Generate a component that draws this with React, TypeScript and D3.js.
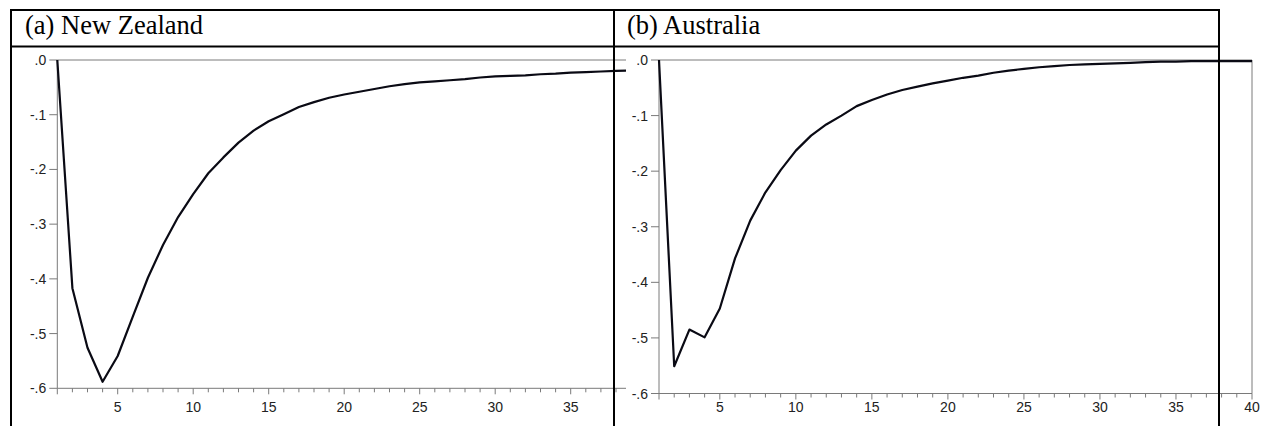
import React from "react";
import * as d3 from "d3";

const periods = [1,2,3,4,5,6,7,8,9,10,11,12,13,14,15,16,17,18,19,20,21,22,23,24,25,26,27,28,29,30,31,32,33,34,35,36,37,38,39,40];

const newZealand = [
  0, -0.417, -0.526, -0.588, -0.541, -0.469, -0.398, -0.338, -0.287, -0.245,
  -0.207, -0.178, -0.151, -0.129, -0.112, -0.099, -0.086, -0.077, -0.069, -0.063,
  -0.058, -0.053, -0.048, -0.044, -0.041, -0.039, -0.037, -0.035, -0.032, -0.030,
  -0.029, -0.028, -0.026, -0.025, -0.023, -0.022, -0.021, -0.020, -0.019, -0.018,
];

const australia = [
  0, -0.551, -0.485, -0.499, -0.447, -0.357, -0.289, -0.238, -0.198, -0.163,
  -0.136, -0.116, -0.100, -0.083, -0.072, -0.062, -0.054, -0.048, -0.042, -0.037,
  -0.032, -0.028, -0.023, -0.019, -0.016, -0.013, -0.011, -0.009, -0.008, -0.007,
  -0.006, -0.005, -0.004, -0.003, -0.003, -0.002, -0.002, -0.002, -0.002, -0.002,
];

const yTickValues = [0, -0.1, -0.2, -0.3, -0.4, -0.5, -0.6];
const yTickLabels = [".0", "-.1", "-.2", "-.3", "-.4", "-.5", "-.6"];
const xTickLabelValues = [5, 10, 15, 20, 25, 30, 35, 40];

const titles = ["(a) New Zealand", "(b) Australia"];

const AXIS = "#7a7a7a";
const LABEL_FONT = "Arial, 'Liberation Sans', sans-serif";

type PanelProps = {
  values: number[];
  x0: number;
  x1: number;
  yTop: number;
  yBottom: number;
  clipRight?: number;
  id: string;
  showRightFrame: boolean;
};

function Panel({ values, x0, x1, yTop, yBottom, clipRight, id, showRightFrame }: PanelProps) {
  const x = d3.scaleLinear().domain([1, 40]).range([x0, x1]);
  const y = d3.scaleLinear().domain([-0.6, 0]).range([yBottom, yTop]);
  const line = d3
    .line<number>()
    .x((_, i) => x(periods[i]))
    .y((d) => y(d));
  const content = (
    <g>
      <line x1={x(1)} x2={x(40)} y1={y(0)} y2={y(0)} stroke={AXIS} strokeWidth={1} />
      <line x1={x(1)} x2={x(40)} y1={y(-0.6)} y2={y(-0.6)} stroke={AXIS} strokeWidth={1} />
      <line x1={x(1)} x2={x(1)} y1={y(0)} y2={y(-0.6)} stroke={AXIS} strokeWidth={1} />
      {showRightFrame && (
        <line x1={x(40)} x2={x(40)} y1={y(0)} y2={y(-0.6)} stroke={AXIS} strokeWidth={1} />
      )}
      {yTickValues.map((v, i) => (
        <g key={"y" + i}>
          <line x1={x(1) - 8} x2={x(1)} y1={y(v)} y2={y(v)} stroke={AXIS} strokeWidth={1} />
          <text
            x={x(1) - 11}
            y={y(v)}
            dy="0.36em"
            textAnchor="end"
            fontFamily={LABEL_FONT}
            fontSize={14}
            fill="#222"
          >
            {yTickLabels[i]}
          </text>
        </g>
      ))}
      {periods.map((p) => {
        const major = p % 5 === 0 || p === 1;
        return (
          <line
            key={"x" + p}
            x1={x(p)}
            x2={x(p)}
            y1={y(-0.6)}
            y2={y(-0.6) + (major ? 6 : 4)}
            stroke={AXIS}
            strokeWidth={1}
          />
        );
      })}
      {xTickLabelValues.map((p) => (
        <text
          key={"xl" + p}
          x={x(p)}
          y={412}
          textAnchor="middle"
          fontFamily={LABEL_FONT}
          fontSize={14}
          fill="#222"
        >
          {p}
        </text>
      ))}
      <path d={line(values) || ""} fill="none" stroke="#0a0a14" strokeWidth={2.2} strokeLinejoin="round" />
    </g>
  );
  if (clipRight === undefined) return content;
  return (
    <g>
      <defs>
        <clipPath id={id}>
          <rect x={0} y={0} width={clipRight} height={426} />
        </clipPath>
      </defs>
      <g clipPath={`url(#${id})`}>{content}</g>
    </g>
  );
}

export default function App() {
  return (
    <svg
      width={1268}
      height={426}
      style={{ position: "absolute", left: 0, top: 0, background: "#fff" }}
    >
      <rect x={0} y={0} width={1268} height={426} fill="#fff" />
      <Panel
        id="clipL"
        values={newZealand}
        x0={57.3}
        x1={57.3 + 39 * 15.1}
        yTop={60}
        yBottom={388.3}
        clipRight={626}
        showRightFrame={false}
      />
      <Panel
        id="clipR"
        values={australia}
        x0={659}
        x1={1252}
        yTop={60}
        yBottom={393.5}
        showRightFrame={true}
      />
      <g stroke="#000" strokeWidth={2}>
        <line x1={10} x2={1220} y1={10} y2={10} />
        <line x1={10} x2={1220} y1={46.5} y2={46.5} />
        <line x1={11} x2={11} y1={9} y2={426} />
        <line x1={614} x2={614} y1={9} y2={426} />
        <line x1={1219} x2={1219} y1={9} y2={426} />
      </g>
      <text x={25} y={34} fontFamily="'Times New Roman', 'Liberation Serif', serif" fontSize={26.5} fill="#000">
        {titles[0]}
      </text>
      <text x={627} y={34} fontFamily="'Times New Roman', 'Liberation Serif', serif" fontSize={26.5} fill="#000">
        {titles[1]}
      </text>
    </svg>
  );
}
